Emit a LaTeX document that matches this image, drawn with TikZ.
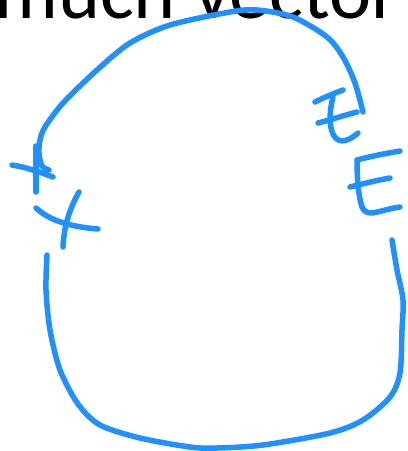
\documentclass[tikz,border=0pt]{standalone}
\usepackage{fontspec}
\setmainfont{Carlito}
\definecolor{PenBlue}{HTML}{1E90FF}
\tikzset{
  ink/.style={draw=PenBlue,line width=5.5pt,line cap=round,line join=round},
  title/.style={font=\fontsize{80}{96}\selectfont,inner sep=0pt,anchor=base west}
}
\begin{document}
\begin{tikzpicture}[x=1pt,y=-1pt]
  \clip (0,0) rectangle (408,451);
  \node[title] (head) at (-6,18) {much vector};

  % upper arc of the loop
  \draw[ink] plot[smooth] coordinates {(49,170) (42,166) (39,153) (40,140) (45,127)
    (63,103) (97,70) (130,43) (170,25) (230,12) (257,10) (293,17) (327,37)
    (343,57) (355,83) (363,112)};
  % lower arc of the loop
  \draw[ink] plot[smooth] coordinates {(47,255) (46,290) (50,330) (60,370) (78,404)
    (100,425) (140,438) (190,447) (217,448) (263,445) (330,433) (363,420)
    (390,397) (400,373) (402,330) (403,300) (397,270) (392,240)};

  % plus sign
  \draw[ink] (36,146) -- (36,192);
  \draw[ink] (12,165) .. controls (25,167) and (40,172) .. (53,177);
  % times sign
  \draw[ink] (36,208) .. controls (45,216) and (60,226) .. (98,229);
  \draw[ink] (79,192) .. controls (70,208) and (64,225) .. (63,247);

  % small epsilon
  \draw[ink] (315,102) .. controls (325,97) and (335,93) .. (343,90);
  \draw[ink] (333,97) .. controls (329,112) and (329,128) .. (334,136)
    .. controls (340,145) and (350,140) .. (358,133);
  \draw[ink] (318,123) .. controls (330,120) and (345,115) .. (357,112);
  % capital E
  \draw[ink] (357,160) .. controls (372,156) and (388,153) .. (400,151);
  \draw[ink] (357,160) .. controls (357,175) and (358,195) .. (362,207)
    .. controls (364,213) and (370,213) .. (373,213)
    .. controls (382,211) and (392,208) .. (400,207);
  \draw[ink] (350,187) .. controls (362,184) and (378,180) .. (390,178);
\end{tikzpicture}
\end{document}
